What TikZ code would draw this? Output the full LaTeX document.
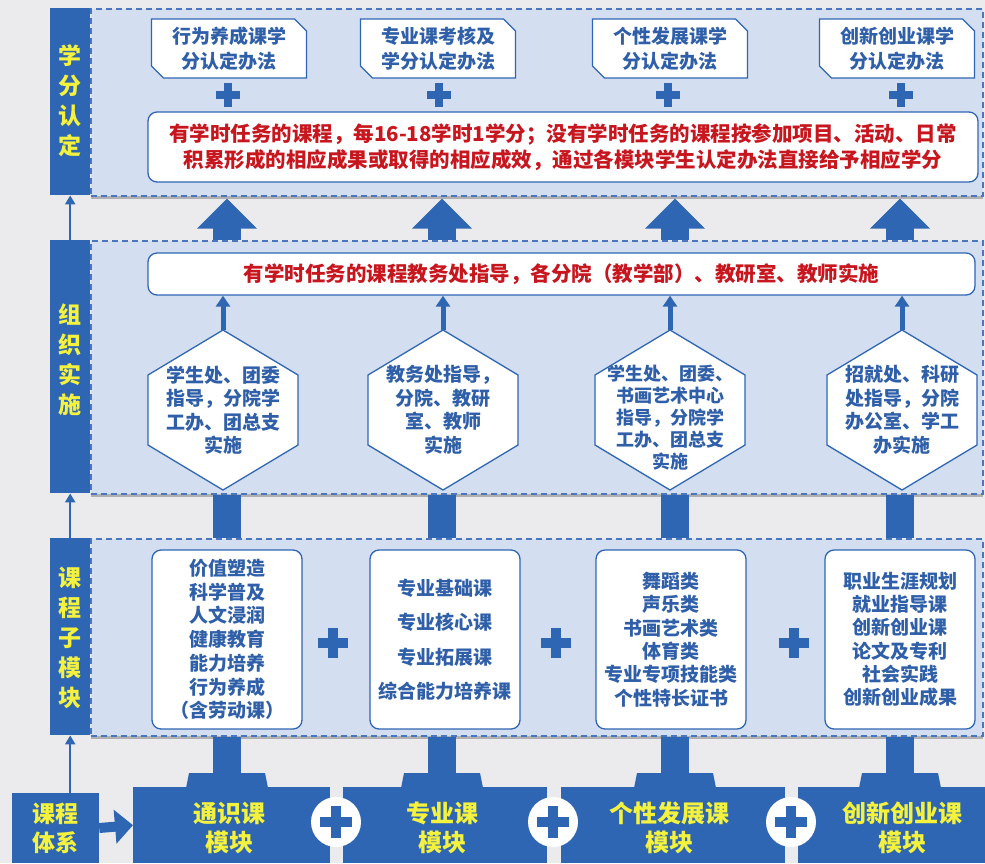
\documentclass[tikz,border=0pt]{standalone}
\usepackage{fontspec}
\setmainfont{Noto Sans CJK SC}
\usetikzlibrary{calc,shapes.misc,shadows,arrows.meta}
\definecolor{dblue}{HTML}{2F66B3}
\definecolor{pfill}{HTML}{D3DEF1}
\definecolor{dashc}{HTML}{4A76BE}
\definecolor{ylw}{HTML}{F4F23C}
\definecolor{rd}{HTML}{C8161E}
\definecolor{bgc}{HTML}{EBEBED}
\definecolor{tblue}{HTML}{2F5FA8}
\tikzset{
  panel/.style={fill=pfill, draw=dashc, line width=1.5pt, dash pattern=on 6pt off 4pt,
    anchor=north west, minimum width=892pt, inner sep=0pt,
    drop shadow={shadow xshift=0pt, shadow yshift=-3pt, opacity=.4, fill=black!65}},
  sidebar/.style={fill=dblue, minimum width=40pt, anchor=north west, inner sep=0pt},
  sidetext/.style={text=ylw, font=\bfseries\fontsize{23}{30}\selectfont, align=center, inner sep=0pt},
  cbox/.style={chamfered rectangle, chamfered rectangle corners={north east,south west},
    chamfered rectangle xsep=6pt, chamfered rectangle ysep=6pt,
    draw=dblue, line width=1.3pt, fill=white, minimum width=155pt, minimum height=59pt,
    inner sep=0pt, align=center, text=tblue, font=\bfseries\fontsize{19}{25}\selectfont},
  rbox/.style={draw=dblue, line width=1.3pt, fill=white, rounded corners=9pt, inner sep=0pt,
    align=center, text=rd, font=\bfseries\fontsize{20.5}{26}\selectfont},
  hexline/.style={draw=dblue, line width=1.3pt, fill=white, line join=miter},
  hextext/.style={align=center, text=tblue, font=\bfseries\fontsize{19}{23.5}\selectfont, inner sep=0pt},
  mbox/.style={draw=dblue, line width=1.3pt, fill=white, rounded corners=9pt, minimum width=150pt,
    minimum height=179pt, inner sep=0pt, align=center, text=tblue},
  plusline/.style={draw=dblue, line width=#1},
  bigarrow/.style={draw=dblue, line width=28pt, -{Triangle[width=58pt,length=30pt]}},
  bar/.style={draw=dblue, line width=28pt},
  thinarrow/.style={draw=dblue, line width=2.5pt, -{Triangle[width=10pt,length=9pt]}},
  midarrow/.style={draw=dblue, line width=5pt, -{Triangle[width=14pt,length=11pt]}},
  band/.style={fill=dblue, draw=none},
  modtext/.style={text=ylw, align=center, font=\bfseries\fontsize{24}{29}\selectfont, inner sep=0pt},
}
\newcommand{\plussign}[3]{% x, y, half size
  \draw[plusline=#3*0.66pt] (#1-#3,#2) -- (#1+#3,#2);
  \draw[plusline=#3*0.66pt] (#1,#2-#3) -- (#1,#2+#3);}
\begin{document}
\begin{tikzpicture}[x=1pt,y=-1pt]
\fill[bgc] (0,0) rectangle (985,863);
\useasboundingbox (0,0) rectangle (985,863);
% columns
\coordinate (c1) at (227,0);
\coordinate (c2) at (442,0);
\coordinate (c3) at (675,0);
\coordinate (c4) at (900,0);

% ---- panels
\node[panel, minimum height=187pt] (P1) at (90,8) {};
\node[panel, minimum height=253pt] (P2) at (90,240) {};
\node[panel, minimum height=197pt] (P3) at (90,538) {};
\node[sidebar, minimum height=187pt] (S1) at (50,8) {};
\node[sidebar, minimum height=253pt] (S2) at (50,240) {};
\node[sidebar, minimum height=197pt] (S3) at (50,538) {};
\node[sidetext] (S1t) at (70,101) {学\\分\\认\\定};
\node[sidetext] (S2t) at (70,360) {组\\织\\实\\施};
\node[sidetext] (S3t) at (70,638) {课\\程\\子\\模\\块};

% ---- panel 1
\node[cbox] (T1) at (229,48.5) {行为养成课学\\分认定办法};
\node[cbox] (T2) at (438,48.5) {专业课考核及\\学分认定办法};
\node[cbox] (T3) at (670,48.5) {个性发展课学\\分认定办法};
\node[cbox] (T4) at (897,48.5) {创新创业课学\\分认定办法};
\plussign{228}{95}{12}
\plussign{439}{95}{12}
\plussign{668}{95}{12}
\plussign{901}{95}{12}
\node[rbox, minimum width=830pt, minimum height=70pt] (R1) at (563,147)
  {有学时任务的课程，每16-18学时1学分；没有学时任务的课程按参加项目、活动、日常\\积累形成的相应成果或取得的相应成效，通过各模块学生认定办法直接给予相应学分};

% ---- big arrows P2 -> P1
\foreach \c in {c1,c2,c3,c4}{
  \draw[bigarrow] (P2.north -| \c) -- ($(P1.south -| \c)+(0,2)$);
}
\draw[thinarrow] (S2.north) -- (S1.south);

% ---- panel 2
\node[rbox, minimum width=827pt, minimum height=42pt] (R2) at (561.5,274)
  {有学时任务的课程教务处指导，各分院（教学部）、教研室、教师实施};
\foreach \i/\x in {1/223,2/443,3/670,4/902}{
  \coordinate (h\i) at (\x,410);
  \draw[hexline] ($(h\i)+(0,-80)$) -- ($(h\i)+(75,-35)$) -- ($(h\i)+(75,35)$) -- ($(h\i)+(0,80)$)
     -- ($(h\i)+(-75,35)$) -- ($(h\i)+(-75,-35)$) -- cycle;
  \coordinate (h\i top) at ($(h\i)+(0,-80)$);
  \draw[midarrow] (h\i top) -- (h\i top |- R2.south);
}
\node[hextext] (H1) at (223,410) {学生处、团委\\指导，分院学\\工办、团总支\\实施};
\node[hextext] (H2) at (443,410) {教务处指导，\\分院、教研\\室、教师\\实施};
\node[hextext, font=\bfseries\fontsize{18}{22}\selectfont] (H3) at (670,418) {学生处、团委、\\书画艺术中心\\指导，分院学\\工办、团总支\\实施};
\node[hextext] (H4) at (902,410) {招就处、科研\\处指导，分院\\办公室、学工\\办实施};

% ---- bars P2 -> P3
\foreach \c in {c1,c2,c3,c4}{
  \draw[bar] (P2.south -| \c) -- (P3.north -| \c);
}
\draw[thinarrow] (S3.north) -- (S2.south);

% ---- panel 3
\node[mbox, font=\bfseries\fontsize{19}{23.7}\selectfont] (B1) at (227,639.5)
  {价值塑造\\科学普及\\人文浸润\\健康教育\\能力培养\\行为养成\\（含劳动课）};
\node[mbox, font=\bfseries\fontsize{19}{34.5}\selectfont] (B2) at (445,639.5)
  {专业基础课\\专业核心课\\专业拓展课\\综合能力培养课};
\node[mbox, font=\bfseries\fontsize{19}{23.3}\selectfont] (B3) at (671,639.5)
  {舞蹈类\\声乐类\\书画艺术类\\体育类\\专业专项技能类\\个性特长证书};
\node[mbox, font=\bfseries\fontsize{19}{23.3}\selectfont] (B4) at (900,639.5)
  {职业生涯规划\\就业指导课\\创新创业课\\论文及专利\\社会实践\\创新创业成果};
\plussign{333}{643}{15}
\plussign{556}{643}{15}
\plussign{794}{643}{15}

% ---- bottom band
\node[band, anchor=north west, minimum width=197pt, minimum height=76pt, inner sep=0pt] (M1) at (133,787) {};
\node[band, anchor=north west, minimum width=204pt, minimum height=76pt, inner sep=0pt] (M2) at (343,787) {};
\node[band, anchor=north west, minimum width=224pt, minimum height=76pt, inner sep=0pt] (M3) at (561,787) {};
\node[band, anchor=north west, minimum width=187pt, minimum height=76pt, inner sep=0pt] (M4) at (798,787) {};
\foreach \c in {c1,c2,c3,c4}{
  \fill[dblue] ($(\c)+(-41,788)$) -- ($(\c)+(-38,773)$) -- ($(\c)+(38,773)$) -- ($(\c)+(41,788)$) -- cycle;
  \coordinate (tab\c) at ($(\c)+(0,774)$);
  \draw[bar] (P3.south -| \c) -- (tab\c);
}
\foreach \i/\x in {1/336,2/553,3/791}{
  \node[circle, fill=white, minimum size=50pt, inner sep=0pt] (G\i) at (\x,822) {};
  \plussign{\x}{822}{16}
}
\node[modtext] (M1t) at (229,827.5) {通识课\\模块};
\node[modtext] (M2t) at (442,827.5) {专业课\\模块};
\node[modtext] (M3t) at (669,827.5) {个性发展课\\模块};
\node[modtext] (M4t) at (902,827.5) {创新创业课\\模块};

% ---- course system
\node[fill=dblue, minimum width=87pt, minimum height=70pt, inner sep=0pt, align=center,
  text=ylw, font=\bfseries\fontsize{23}{29}\selectfont] (K) at (55.5,828) {课程\\体系};
\draw[draw=dblue, line width=10pt, -{Triangle[width=33pt,length=18pt]}] (K.east) -- (M1.west);
\draw[thinarrow] (S3.south |- K.north) -- (S3.south);
\end{tikzpicture}
\end{document}
